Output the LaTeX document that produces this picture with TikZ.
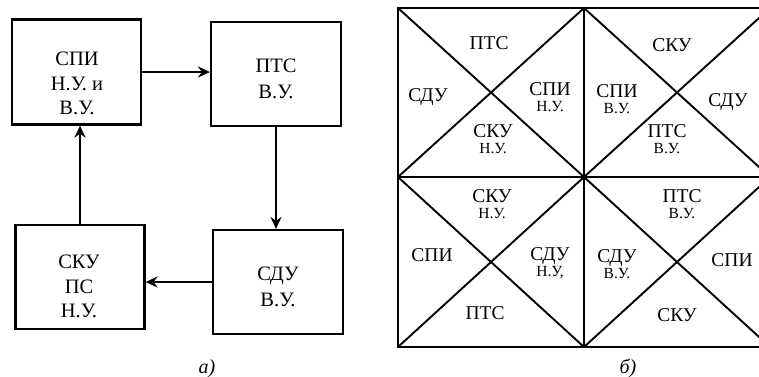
\documentclass[tikz,border=0pt]{standalone}
\usepackage{fontspec}
\setmainfont{Liberation Serif}
\usetikzlibrary{arrows.meta}
\newcommand\lthree[3]{\vtop{\fontsize{20.5}{24.5}\selectfont\halign{\hfil##\hfil\cr#1\cr#2\cr#3\cr}}}
\newcommand\ltwo[2]{\vtop{\fontsize{20.5}{26}\selectfont\halign{\hfil##\hfil\cr#1\cr#2\cr}}}
\newcommand\rtwo[2]{\vtop{\baselineskip=16pt\lineskiplimit=-20pt\lineskip=0pt\halign{\hfil##\hfil\cr\fontsize{19.5}{16}\selectfont #1\cr\fontsize{15.5}{16}\selectfont #2\cr}}}
\tikzset{
  box/.style={draw, line width=2.2pt, inner sep=0pt},
  txt/.style={inner sep=0pt, anchor=base},
  rtxt/.style={inner sep=0pt, anchor=base, font=\fontsize{19.5}{19.5}\selectfont},
  arr/.style={line width=2pt, -{Stealth[length=12pt,width=11pt,inset=4pt]}},
  gridline/.style={line width=1.9pt},
  captxt/.style={inner sep=0pt, anchor=base, font=\fontsize{20}{20}\selectfont\itshape}
}
\begin{document}
\begin{tikzpicture}[x=1pt,y=-1pt]
\clip (0,0) rectangle (759,376);
% panel a
\node[box, minimum width=129pt, minimum height=105pt] (b1) at (76.5,72) {};
\node[box, minimum width=130pt, minimum height=104pt] (b2) at (276,74) {};
\node[box, minimum width=130pt, minimum height=104pt] (b3) at (278,282) {};
\node[box, minimum width=129pt, minimum height=104pt] (b4) at (80,277) {};
\node[txt] (t1) at (77,65.5) {\lthree{СПИ}{Н.У. и}{В.У.}};
\node[txt] (t2) at (276,72.5) {\ltwo{ПТС}{В.У.}};
\node[txt] (t3) at (278,280) {\ltwo{СДУ}{В.У.}};
\node[txt] (t4) at (79,268.5) {\lthree{СКУ}{ПС}{Н.У.}};
\draw[arr] (b1.east) -- (b1.east -| b2.west);
\draw[arr] (b2.south) -- (b2.south |- b3.north);
\draw[arr] (b3.west) -- (b3.west -| b4.east);
\draw[arr] (b4.north) -- (b4.north |- b1.south);
\node[captxt] (ca) at (207,373) {а)};
% panel b
\draw[gridline] (398,8) rectangle (770,347);
\draw[gridline] (584,8) -- (584,347);
\draw[gridline] (398,177) -- (770,177);
\draw[gridline] (398,8) -- (584,177);
\draw[gridline] (584,8) -- (398,177);
\draw[gridline] (584,8) -- (770,177);
\draw[gridline] (770,8) -- (584,177);
\draw[gridline] (398,177) -- (584,347);
\draw[gridline] (584,177) -- (398,347);
\draw[gridline] (584,177) -- (770,347);
\draw[gridline] (770,177) -- (584,347);
% top-left cell
\node[rtxt] (tl1) at (489,49) {ПТС};
\node[rtxt] (tl2) at (428,101) {СДУ};
\node[rtxt] (tl3) at (550,95) {\rtwo{СПИ}{Н.У.}};
\node[rtxt] (tl4) at (493,137.5) {\rtwo{СКУ}{Н.У.}};
% top-right cell
\node[rtxt] (tr1) at (672,51) {СКУ};
\node[rtxt] (tr2) at (617,97.5) {\rtwo{СПИ}{В.У.}};
\node[rtxt] (tr3) at (728,106) {СДУ};
\node[rtxt] (tr4) at (667,137.5) {\rtwo{ПТС}{В.У.}};
% bottom-left cell
\node[rtxt] (bl1) at (492,202.5) {\rtwo{СКУ}{Н.У.}};
\node[rtxt] (bl2) at (432,261) {СПИ};
\node[rtxt] (bl3) at (550,260.5) {\rtwo{СДУ}{Н.У,}};
\node[rtxt] (bl4) at (485,319) {ПТС};
% bottom-right cell
\node[rtxt] (br1) at (682,202.5) {\rtwo{ПТС}{В.У.}};
\node[rtxt] (br2) at (617,262.5) {\rtwo{СДУ}{В.У.}};
\node[rtxt] (br3) at (732,266) {СПИ};
\node[rtxt] (br4) at (677,321) {СКУ};
\node[captxt] (cb) at (628,373) {б)};
\end{tikzpicture}
\end{document}
